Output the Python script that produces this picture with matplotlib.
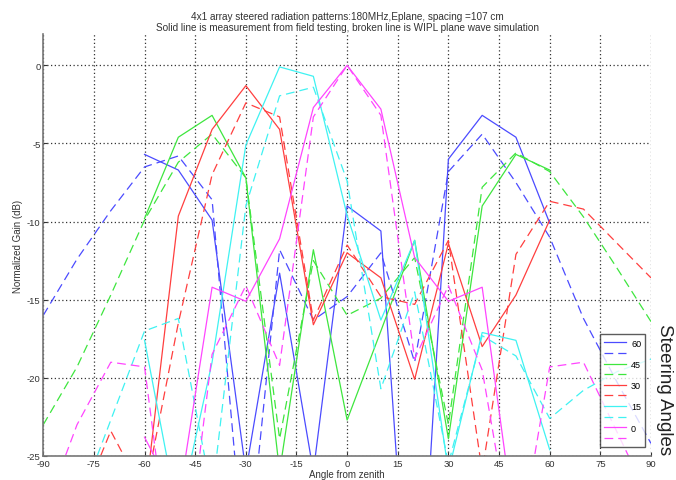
import numpy as np
import matplotlib
matplotlib.use("Agg")
import matplotlib.pyplot as plt

plt.rcParams["font.family"] = ["Liberation Sans", "DejaVu Sans"]
plt.rcParams["axes.unicode_minus"] = False

# measured angles (-60..60) and simulated angles (-90..90)
meas_angles = [-60, -50, -40, -30, -20, -10, 0, 10, 20, 30, 40, 50, 60]
sim_angles = [-90, -80, -70, -60, -50, -40, -30, -20, -10, 0,
              10, 20, 30, 40, 50, 60, 70, 80, 90]

steering = ["60", "45", "30", "15", "0"]

meas_60 = [-5.7, -6.7, -9.9, -26, -13.3, -26, -9.0, -10.6, -42, -6.0, -3.2, -4.6, -10.1]
sim_60 = [-16.0, -12.4, -9.3, -6.5, -5.8, -8.6, -33, -11.8, -16.3, -14.8,
          -12.0, -19.0, -6.8, -4.4, -7.5, -11.0, -16.2, -20.3, -24.2]

meas_45 = [-9.8, -4.6, -3.2, -7.2, -26, -11.8, -22.7, -17.0, -11.2, -23.9, -9.0, -5.7, -6.7]
sim_45 = [-23.0, -19.3, -14.7, -9.9, -6.2, -4.4, -7.2, -23.9, -12.5, -16.0,
          -14.9, -12.3, -23.0, -7.8, -5.6, -6.8, -9.7, -13.0, -16.4]

meas_30 = [-28, -9.65, -4.1, -1.3, -4.1, -16.6, -12.0, -13.6, -20.1, -11.4, -18.0, -14.7, -9.9]
sim_30 = [-33, -28.7, -23.4, -27.5, -16.5, -7.0, -2.4, -3.3, -16.3, -11.5,
          -14.8, -15.3, -11.2, -26, -12.1, -8.7, -9.2, -11.4, -13.6]

meas_15 = [-17.6, -28.9, -19.0, -5.1, -0.1, -0.7, -9.6, -16.3, -11.2, -26, -17.1, -17.6, -24.6]
sim_15 = [-34, -28.4, -22.7, -17.0, -16.2, -27.5, -9.0, -1.95, -1.4, -7.4,
          -20.7, -14.5, -25.5, -17.3, -18.6, -22.6, -20.8, -19.6, -18.8]

meas_0 = [-23.8, -28, -14.2, -15.1, -11.1, -2.7, 0.0, -2.8, -12.3, -15.1, -14.2, -30, -29]
sim_0 = [-28.8, -23.0, -19.0, -19.3, -36, -18.5, -14.1, -19.2, -3.3, 0.0,
         -3.2, -18.8, -14.1, -19.5, -32, -19.3, -19.0, -23.5, -28]

colors = ["#4b4bff", "#3ee63e", "#ff3f3f", "#3ff2f2", "#ff45ff"]
measured = [meas_60, meas_45, meas_30, meas_15, meas_0]
simulated = [sim_60, sim_45, sim_30, sim_15, sim_0]

fig = plt.figure(figsize=(6.76, 4.81), dpi=100)
ax = fig.add_axes([0.064, 0.05, 0.899, 0.877])

for label, color, meas, sim in zip(steering, colors, measured, simulated):
    ax.plot(meas_angles, meas, color=color, linewidth=0.9, label=label)
    ax.plot(sim_angles, sim, color=color, linewidth=0.9,
            linestyle=(0, (7, 4)), label=" ")

ax.set_xlim(-90, 90)
ax.set_ylim(-25, 2)
ax.set_xticks(np.arange(-90, 91, 15))
ax.set_yticks(np.arange(-25, 1, 5))
ax.grid(True, color="#333333", linestyle=(0, (1, 2)), linewidth=0.9)
ax.tick_params(direction="in", length=3, labelsize=6.8, colors="#333333")
ax.tick_params(axis="x", pad=2.5)
ax.tick_params(axis="y", pad=2)

for side in ["top", "right"]:
    ax.spines[side].set_visible(False)
for side in ["left", "bottom"]:
    ax.spines[side].set_color("#777777")
    ax.spines[side].set_linewidth(1.2)

ax.set_xlabel("Angle from zenith", fontsize=7, labelpad=0.5, color="#333333")
ax.set_ylabel("Normalized Gain (dB)", fontsize=7, labelpad=3, color="#333333")
ax.set_title("4x1 array steered radiation patterns:180MHz,Eplane, spacing =107 cm\n"
             "Solid line is measurement from field testing, broken line is WIPL plane wave simulation",
             fontsize=7.2, color="#333333", pad=3, linespacing=1.15)

leg = ax.legend(loc="lower right", fontsize=6.5, frameon=True, fancybox=False,
                handlelength=2.4, borderpad=0.45, labelspacing=0.18,
                handletextpad=0.6, bbox_to_anchor=(0.998, 0.01))
leg.get_frame().set_edgecolor("#333333")
leg.get_frame().set_linewidth(1.0)

fig.text(0.983, 0.191, "Steering Angles", rotation=-90, fontsize=13.5,
         ha="center", va="center", color="#222222")

fig.savefig("out.png", dpi=100)
